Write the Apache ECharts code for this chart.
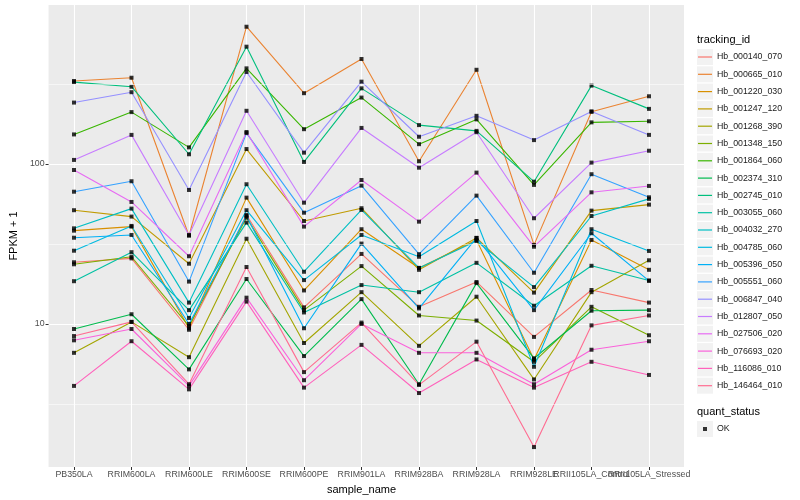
<!DOCTYPE html>
<html><head><meta charset="utf-8">
<script src="https://cdn.jsdelivr.net/npm/echarts@6/dist/echarts.min.js"></script>
<style>html,body{margin:0;padding:0;background:#fff}#c{width:800px;height:500px}</style>
</head><body><div id="c"></div>
<script>
const categories = ['PB350LA','RRIM600LA','RRIM600LE','RRIM600SE','RRIM600PE','RRIM901LA','RRIM928BA','RRIM928LA','RRIM928LE','RRII105LA_Control','RRII105LA_Stressed'];

const Hb_000140_070 = [24.3, 25.7, 9.2, 48.0, 12.7, 27.4, 12.8, 18.3, 8.3, 16.3, 13.6];
const Hb_000665_010 = [330, 346, 35.6, 721, 277, 453, 104, 388, 31.2, 212, 265];
const Hb_001220_030 = [38.3, 40.6, 9.4, 61.6, 16.2, 39.1, 22.4, 33.5, 6.0, 33.5, 21.8];
const Hb_001247_120 = [51.4, 46.9, 23.8, 124, 44.0, 52.9, 21.8, 34.5, 15.7, 51.1, 55.7];
const Hb_001268_390 = [6.6, 10.3, 6.2, 34.1, 7.6, 15.8, 7.3, 14.8, 4.5, 15.8, 25.0];
const Hb_001348_150 = [23.6, 26.3, 9.7, 46.2, 12.2, 23.0, 11.3, 10.5, 5.8, 12.8, 8.5];
const Hb_001864_060 = [153, 211, 127, 396, 165, 260, 133, 190, 74, 182, 185];
const Hb_002374_310 = [9.3, 11.5, 5.2, 19.1, 6.3, 14.3, 4.2, 18.0, 6.1, 12.1, 12.2];
const Hb_002745_010 = [325, 304, 115, 541, 103, 297, 175, 161, 77.5, 309, 221];
const Hb_003055_060 = [18.5, 28.1, 12.2, 43.0, 11.8, 17.5, 15.8, 24.1, 13.0, 23.1, 18.7];
const Hb_004032_270 = [39.6, 52.6, 13.6, 74.7, 21.2, 51.6, 22.4, 33.0, 17.0, 47.3, 60.5];
const Hb_004785_060 = [28.7, 41.0, 10.9, 51.4, 18.8, 36.0, 26.3, 44.0, 5.4, 39.1, 28.6];
const Hb_005396_050 = [34.6, 36.0, 10.0, 47.3, 9.4, 31.8, 12.5, 34.5, 12.2, 36.9, 18.6];
const Hb_005551_060 = [67.1, 78, 18.4, 156, 49.6, 73.2, 27.3, 63.4, 20.9, 86.3, 61.9];
const Hb_006847_040 = [242, 281, 68.8, 376, 117.7, 327, 148, 200, 141, 213, 152];
const Hb_012807_050 = [106, 152, 36, 215, 57.3, 168, 94.8, 158, 45.8, 102, 121];
const Hb_027506_020 = [91.7, 57.9, 26.5, 158.5, 40.6, 79.4, 43.6, 88.3, 30.4, 66.5, 72.9];
const Hb_076693_020 = [7.9, 9.3, 4.1, 14.6, 4.45, 10.0, 6.6, 6.6, 4.2, 6.9, 7.8];
const Hb_116086_010 = [4.1, 7.8, 3.9, 13.8, 4.0, 7.4, 3.7, 6.0, 4.0, 5.8, 4.8];
const Hb_146464_010 = [8.4, 10.3, 4.2, 22.7, 5.0, 10.2, 4.16, 7.75, 1.7, 9.8, 11.3];

const seriesNames = ['Hb_000140_070','Hb_000665_010','Hb_001220_030','Hb_001247_120','Hb_001268_390','Hb_001348_150','Hb_001864_060','Hb_002374_310','Hb_002745_010','Hb_003055_060','Hb_004032_270','Hb_004785_060','Hb_005396_050','Hb_005551_060','Hb_006847_040','Hb_012807_050','Hb_027506_020','Hb_076693_020','Hb_116086_010','Hb_146464_010'];
const seriesValues = [Hb_000140_070,Hb_000665_010,Hb_001220_030,Hb_001247_120,Hb_001268_390,Hb_001348_150,Hb_001864_060,Hb_002374_310,Hb_002745_010,Hb_003055_060,Hb_004032_270,Hb_004785_060,Hb_005396_050,Hb_005551_060,Hb_006847_040,Hb_012807_050,Hb_027506_020,Hb_076693_020,Hb_116086_010,Hb_146464_010];
const statusName = 'OK';
const majorBreaks = [10, 100];
const minorBreaks = [3.1623, 31.623, 316.23];

const palette = ['#F8766D','#EA8331','#D89000','#C09B00','#A3A500','#7CAE00','#39B600','#00BB4E','#00BF7D','#00C1A3','#00BFC4','#00BAE0','#00B0F6','#35A2FF','#9590FF','#C77CFF','#E76BF3','#FA62DB','#FF62BC','#FF6C91'];

const FONT = '"Liberation Sans", Arial, sans-serif';
const yMin = 1.276, yMax = 985.7;

const chart = echarts.init(document.getElementById('c'), null, {renderer:'canvas'});

const lineSeries = seriesNames.map((n, i) => ({
  name: n, type: 'line', xAxisIndex: 1, yAxisIndex: 1,
  data: seriesValues[i], symbol: 'none', showSymbol: false,
  lineStyle: {width: 1.1, color: palette[i]}, itemStyle: {color: palette[i]},
  emphasis: {disabled: true}, silent: true, z: 3
}));
const pts = [];
seriesValues.forEach(arr => arr.forEach((v, j) => pts.push([categories[j], v])));
const okSeries = {
  name: statusName, type: 'scatter', xAxisIndex: 1, yAxisIndex: 1, data: pts,
  symbol: 'rect', symbolSize: 4, itemStyle: {color: '#000'}, silent: true, z: 4,
  emphasis: {disabled: true}
};
const minorSeries = {
  name: '_minor', type: 'line', xAxisIndex: 0, yAxisIndex: 0, data: [[0.5, 10]],
  symbol: 'none', lineStyle: {width: 0}, silent: true, z: 1,
  markLine: {silent: true, symbol: 'none', label: {show: false}, animation: false,
    lineStyle: {color: '#FFFFFF', width: 0.55, type: 'solid'},
    data: minorBreaks.map(v => ({yAxis: v}))}
};

const keyBoxes = seriesNames.map((n, i) => ({
  type: 'rect', shape: {x: 697, y: 49 + i * 17.3, width: 16, height: 16},
  style: {fill: '#F2F2F2'}, silent: true
}));

const isMajor = v => majorBreaks.some(b => Math.abs(v - b) / b < 1e-3);

chart.setOption({
  animation: false,
  backgroundColor: '#FFFFFF',
  textStyle: {fontFamily: FONT},
  grid: [
    {left: 40, top: 5, width: 644, height: 462, show: true, backgroundColor: '#EBEBEB', borderWidth: 0},
    {left: 74, top: 5, width: 575, height: 462, show: false}
  ],
  xAxis: [
    {type: 'value', gridIndex: 0, min: 0, max: 1, show: false},
    {type: 'category', gridIndex: 1, data: categories, boundaryGap: false,
     axisLine: {show: false},
     axisTick: {show: true, length: 3, lineStyle: {color: '#333333', width: 1}},
     axisLabel: {interval: 0, hideOverlap: false, color: '#4D4D4D', fontSize: 8.8, margin: 3, fontFamily: FONT},
     splitLine: {show: true, lineStyle: {color: '#FFFFFF', width: 1.1}},
     name: 'sample_name', nameLocation: 'middle', nameGap: 17,
     nameTextStyle: {fontSize: 11, color: '#000000', fontFamily: FONT}}
  ],
  yAxis: [
    {type: 'log', logBase: 10, gridIndex: 0, min: yMin, max: yMax,
     axisLine: {show: false},
     axisTick: {show: true, length: 3, customValues: majorBreaks, lineStyle: {color: '#333333', width: 1}},
     axisLabel: {customValues: majorBreaks, formatter: v => isMajor(v) ? String(Math.round(v)) : '', color: '#4D4D4D', fontSize: 8.8, margin: 4, fontFamily: FONT},
     splitLine: {show: true, lineStyle: {color: '#FFFFFF', width: 1.1}},
     name: 'FPKM + 1', nameLocation: 'middle', nameGap: 24,
     nameTextStyle: {fontSize: 11, color: '#000000', fontFamily: FONT}},
    {type: 'log', logBase: 10, gridIndex: 1, min: yMin, max: yMax, show: false,
     splitLine: {show: false}}
  ],
  legend: [
    {data: seriesNames, orient: 'vertical', left: 698, top: 51, padding: 0, icon: 'rect',
     itemWidth: 14, itemHeight: 1.2, itemGap: 5.3, selectedMode: false,
     textStyle: {fontSize: 8.8, color: '#1A1A1A', lineHeight: 12, fontFamily: FONT}},
    {data: [statusName], orient: 'vertical', left: 703, top: 423, padding: 0, icon: 'rect',
     itemWidth: 4, itemHeight: 4, selectedMode: false,
     textStyle: {fontSize: 8.8, color: '#1A1A1A', lineHeight: 12, padding: [0, 0, 0, 5], fontFamily: FONT}}
  ],
  graphic: [
    ...keyBoxes,
    {type: 'rect', shape: {x: 697, y: 421, width: 16, height: 16}, style: {fill: '#F2F2F2'}, silent: true},
    {type: 'text', x: 697, y: 40, style: {text: 'tracking_id', fill: '#000', font: '11px ' + FONT, textVerticalAlign: 'middle', verticalAlign: 'middle'}},
    {type: 'text', x: 697, y: 412, style: {text: 'quant_status', fill: '#000', font: '11px ' + FONT, textVerticalAlign: 'middle', verticalAlign: 'middle'}}
  ],
  series: [minorSeries, ...lineSeries, okSeries]
});
</script></body></html>
